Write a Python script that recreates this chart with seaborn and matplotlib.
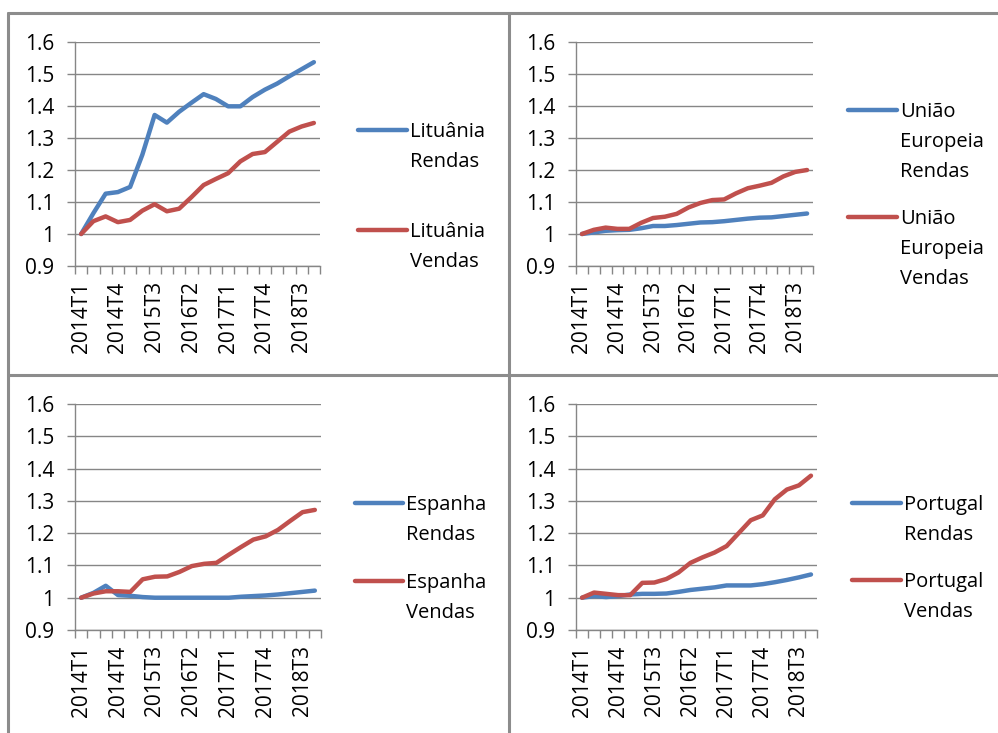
import matplotlib
matplotlib.use("Agg")
import matplotlib.pyplot as plt
from matplotlib.lines import Line2D
import seaborn as sns
import pandas as pd
import numpy as np

# Quarterly index (2014T1 = 1)
quarters = ["2014T1", "2014T2", "2014T3", "2014T4",
            "2015T1", "2015T2", "2015T3", "2015T4",
            "2016T1", "2016T2", "2016T3", "2016T4",
            "2017T1", "2017T2", "2017T3", "2017T4",
            "2018T1", "2018T2", "2018T3", "2018T4"]
shown_quarters = ["2014T1", "2014T4", "2015T3", "2016T2", "2017T1", "2017T4", "2018T3"]

y_ticks = [0.9, 1.0, 1.1, 1.2, 1.3, 1.4, 1.5, 1.6]
y_tick_labels = ["0.9", "1", "1.1", "1.2", "1.3", "1.4", "1.5", "1.6"]

lituania_rendas = [1.000, 1.065, 1.126, 1.131, 1.147, 1.248, 1.372, 1.348, 1.382, 1.410,
                   1.437, 1.422, 1.399, 1.399, 1.428, 1.451, 1.470, 1.493, 1.515, 1.537]
lituania_vendas = [1.000, 1.040, 1.055, 1.037, 1.044, 1.073, 1.093, 1.071, 1.079, 1.115,
                   1.153, 1.172, 1.190, 1.227, 1.250, 1.256, 1.288, 1.320, 1.336, 1.347]

ue_rendas = [1.000, 1.005, 1.010, 1.012, 1.013, 1.018, 1.025, 1.025, 1.028, 1.032,
             1.036, 1.037, 1.040, 1.044, 1.048, 1.051, 1.052, 1.056, 1.060, 1.064]
ue_vendas = [1.000, 1.013, 1.020, 1.016, 1.016, 1.035, 1.050, 1.054, 1.063, 1.083,
             1.097, 1.106, 1.108, 1.127, 1.143, 1.151, 1.160, 1.180, 1.194, 1.200]

espanha_rendas = [1.000, 1.015, 1.037, 1.008, 1.006, 1.002, 1.000, 1.000, 1.000, 1.000,
                  1.000, 1.000, 1.000, 1.003, 1.005, 1.007, 1.010, 1.014, 1.018, 1.022]
espanha_vendas = [1.000, 1.013, 1.020, 1.020, 1.018, 1.057, 1.065, 1.066, 1.080, 1.098,
                  1.105, 1.108, 1.133, 1.157, 1.180, 1.190, 1.210, 1.238, 1.265, 1.272]

portugal_rendas = [1.000, 1.005, 1.002, 1.005, 1.010, 1.012, 1.012, 1.013, 1.018, 1.024,
                   1.028, 1.032, 1.038, 1.038, 1.038, 1.042, 1.048, 1.055, 1.063, 1.072]
portugal_vendas = [1.000, 1.016, 1.012, 1.008, 1.008, 1.046, 1.047, 1.058, 1.078, 1.108,
                   1.125, 1.140, 1.160, 1.200, 1.240, 1.255, 1.305, 1.335, 1.348, 1.378]

BLUE = "#4F81BD"
RED = "#C0504D"
GRID = "#868686"
FRAME = "#8c8c8c"

sns.set_style("white")
plt.rcParams["font.family"] = ["Open Sans", "DejaVu Sans"]

W, H = 998, 733
fig = plt.figure(figsize=(W / 100, H / 100), dpi=100)

TICK_FS = 15
LEG_FS = 14.5
LINE_W = 3.2
LINE_STEP = 30  # px between stacked legend text lines


def axes_px(left, top, right, bottom):
    return fig.add_axes([left / W, 1 - bottom / H, (right - left) / W, (bottom - top) / H])


def legend_entry(color, x0, x1, y, words):
    """Legend key line followed by a stacked, left-aligned label (pixel coords)."""
    fig.add_artist(Line2D([x0 / W, x1 / W], [1 - y / H, 1 - y / H], color=color,
                          lw=LINE_W, solid_capstyle="round",
                          transform=fig.transFigure))
    for k, word in enumerate(words):
        fig.text((x1 + 3) / W, 1 - (y + 7 + k * LINE_STEP) / H, word,
                 ha="left", va="baseline", fontsize=LEG_FS, color="#000000")


panels = [
    # rendas, vendas, label words, axes box (px), key x-range (px), key rows y (px)
    (lituania_rendas, lituania_vendas,
     (["Lituânia", "Rendas"], ["Lituânia", "Vendas"]),
     (75, 42, 320, 266), (358, 407), (130, 230)),
    (ue_rendas, ue_vendas,
     (["União", "Europeia", "Rendas"], ["União", "Europeia", "Vendas"]),
     (576, 42, 813, 266), (848, 897), (110, 217)),
    (espanha_rendas, espanha_vendas,
     (["Espanha", "Rendas"], ["Espanha", "Vendas"]),
     (75, 404, 321, 630), (355, 403), (503, 581)),
    (portugal_rendas, portugal_vendas,
     (["Portugal", "Rendas"], ["Portugal", "Vendas"]),
     (576, 404, 817, 630), (852, 901), (503, 580)),
]

for rendas, vendas, names, box, key_x, key_y in panels:
    ax = axes_px(*box)
    label_r = " ".join(names[0])
    label_v = " ".join(names[1])
    df = pd.DataFrame({
        "pos": list(range(len(quarters))) * 2,
        "valor": rendas + vendas,
        "serie": [label_r] * len(rendas) + [label_v] * len(vendas),
    })
    sns.lineplot(data=df, x="pos", y="valor", hue="serie", palette=[BLUE, RED],
                 linewidth=LINE_W, ax=ax, legend=False)
    for ln in ax.lines:
        ln.set_solid_capstyle("round")
        ln.set_solid_joinstyle("round")

    ax.set_xlim(-0.5, len(quarters) - 0.5)
    ax.set_ylim(0.9, 1.6)
    ax.set_xlabel("")
    ax.set_ylabel("")

    ax.set_yticks(y_ticks)
    ax.set_yticklabels(y_tick_labels)
    ax.set_axisbelow(True)
    ax.yaxis.grid(True, color=GRID, linewidth=1.0)
    ax.xaxis.grid(False)

    ax.set_xticks([quarters.index(q) for q in shown_quarters])
    ax.set_xticklabels(shown_quarters, rotation=90, va="top", ha="center")
    ax.set_xticks(np.arange(-0.5, len(quarters), 1.0), minor=True)

    for side in ("top", "right"):
        ax.spines[side].set_visible(False)
    for side in ("left", "bottom"):
        ax.spines[side].set_color(GRID)
        ax.spines[side].set_linewidth(1.0)

    ax.tick_params(axis="y", which="major", left=True, length=6, width=1.0,
                   color=GRID, pad=9, labelsize=TICK_FS, labelcolor="#000000")
    ax.tick_params(axis="x", which="major", bottom=True, length=0, pad=11,
                   labelsize=TICK_FS, labelcolor="#000000")
    ax.tick_params(axis="x", which="minor", bottom=True, length=6, width=1.0,
                   color=GRID)

    legend_entry(BLUE, key_x[0], key_x[1], key_y[0], names[0])
    legend_entry(RED, key_x[0], key_x[1], key_y[1], names[1])

# Panel frame lines
frame_kw = dict(color=FRAME, linewidth=2.2, transform=fig.transFigure)
fig.add_artist(Line2D([8 / W, 1], [1 - 13 / H, 1 - 13 / H], **frame_kw))
fig.add_artist(Line2D([8 / W, 8 / W], [0, 1 - 13 / H], **frame_kw))
fig.add_artist(Line2D([509 / W, 509 / W], [0, 1 - 13 / H], **frame_kw))
fig.add_artist(Line2D([8 / W, 1], [1 - 375 / H, 1 - 375 / H], **frame_kw))

fig.savefig("out.png", dpi=100)
